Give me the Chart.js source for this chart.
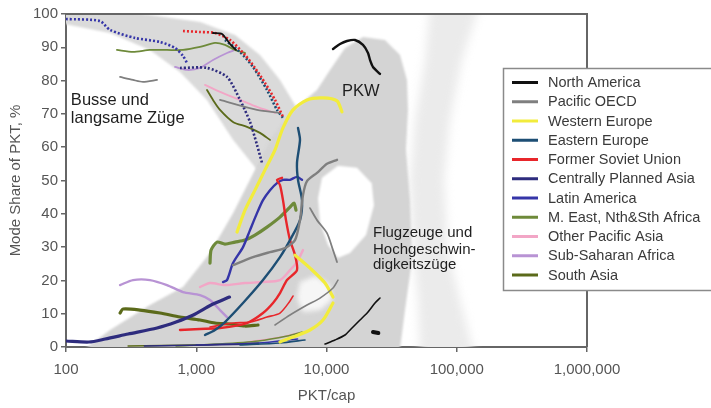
<!DOCTYPE html>
<html>
<head>
<meta charset="utf-8">
<script src="https://cdn.jsdelivr.net/npm/chart.js@4"></script>
<style>
  html, body { margin: 0; padding: 0; background: #fff; }
  canvas { display: block; }
</style>
</head>
<body>
<canvas id="c" width="711" height="408"></canvas>
<script>
// ---- Regions and their colours (legend order) ----
const regions = ['North America', 'Pacific OECD', 'Western Europe', 'Eastern Europe',
  'Former Soviet Union', 'Centrally Planned Asia', 'Latin America',
  'M. East, Nth&Sth Africa', 'Other Pacific Asia', 'Sub-Saharan Africa', 'South Asia'];
const regionColors = ['#111111', '#7f7f7f', '#f2ec3c', '#1d4e74', '#e8262b', '#2e2c7e',
  '#3535a8', '#6e8a3a', '#f2a6c6', '#b893d4', '#5b6a1a'];

// ---- Axis ticks ----
const xTickValues = [100, 1000, 10000, 100000, 1000000];
const xTickLabels = ['100', '1,000', '10,000', '100,000', '1,000,000'];

// ---- Trajectories: [PKT per capita, mode share %] ----
// North America
const naBus = [[1345,94.3],[1577,94.0],[1816,91.0],[2020,89.2]];
const naCar = [[11220,89.5],[12700,91.0],[14370,91.9],[16550,92.2],[19060,90.7],[20830,88.3],[21580,86.2],[22750,84.1],[25750,82.0]];
const naAir = [[9739,0.9],[11620,2.1],[13870,3.6],[15700,5.7],[18080,8.1],[20830,10.5],[23570,13.2],[25750,14.7]];
const naRail = [[22750,4.5],[25000,4.2]];
// Pacific OECD
const poBusEarly = [[260,81.1],[327,80.2],[390,79.6],[500,80.2]];
const poBusMid = [[1522,74.2],[2927,71.2],[4395,70.3]];
const poBusLate = [[7470,41.7],[8455,38.1],[10090,34.2],[11220,29.1],[12040,25.5]];
const poCar = [[1915,24.6],[2727,27.0],[3684,28.5],[4802,29.7],[5731,32.1],[6259,38.1],[6600,45.6],[7085,49.8],[8455,52.3],[10090,55.0],[12040,56.2]];
const poAir = [[4024,6.6],[5246,9.6],[7085,12.6],[8916,14.7],[11220,17.7],[12250,20.1]];
// Western Europe
const weCar = [[2056,34.5],[2367,41.1],[2825,47.1],[3372,53.2],[4024,59.2],[4634,65.8],[5532,71.2],[7085,74.2],[9400,74.8],[12040,73.9],[13150,70.6]];
const weBus = [[5731,27.6],[7470,23.7],[9739,19.2],[11220,15.0]];
const weAir = [[4395,1.5],[5532,3.0],[7470,5.1],[9400,8.1],[11220,13.2]];
// Eastern Europe
const eeBus = [[1662,92.2],[2168,88.6],[2727,84.1],[3493,77.2],[4169,71.2],[4634,68.8]];
const eeCar = [[1167,3.6],[1393,5.1],[1662,7.5],[2286,13.2],[3254,20.1],[4395,27.0],[5246,32.1],[6259,38.1],[6484,44.1],[6042,50.2],[5936,55.3],[6259,62.2],[6042,65.8]];
const eeAir = [[2168,0.6],[4395,1.2],[6839,2.1]];
// Former Soviet Union
const fsuBus = [[791,94.9],[1069,94.6],[1393,94.3],[1816,92.2],[2367,87.7],[2825,83.8],[3372,79.3],[4024,74.2],[4634,69.1]];
const fsuCar = [[750,5.1],[1069,5.4],[1522,5.7],[2452,7.2],[3254,10.2],[3885,13.2],[4395,16.2],[4974,20.1],[5936,23.1],[5731,27.6],[5246,32.1],[4887,38.1],[4634,44.1],[4395,48.6],[4169,50.2],[4553,50.8]];
const fsuAir = [[1275,6.0],[1915,7.2],[2586,7.5],[3493,9.0],[4395,10.2],[5246,13.8],[5532,15.3]];
// Centrally Planned Asia
const cpaBus = [[750,83.8],[1209,83.8],[1722,81.1],[2168,74.2],[2586,67.6],[2927,60.7],[3197,55.3]];
const cpaCar = [[100,1.8],[150,1.5],[200,2.4],[300,3.9],[500,5.7],[700,7.5],[950,9.6],[1300,12.6],[1800,15.0]];
const cpaAir = [[400,0.3],[1200,0.6],[3000,0.9]];
// Latin America
const laBus = [[100,98.5],[182,97.9],[218,95.2],[339,92.8],[527,91.6],[687,89.8],[791,87.4],[849,85.3]];
const laCar = [[1605,19.5],[1722,20.1],[1915,25.2],[2286,30.0],[2586,35.1],[2927,40.2],[3254,44.1],[3684,47.1],[4169,49.2],[4634,50.2],[5246,50.2],[5936,51.1],[6484,50.2]];
const laAir = [[1000,0.6],[3000,1.2],[6000,2.4]];
// Middle East, North & South Africa
const meBus = [[246,89.2],[327,88.6],[441,89.2],[596,89.2],[791,89.2],[1069,90.1],[1393,91.3],[1662,90.7],[1984,89.2],[2367,88.3]];
const meCar = [[1275,25.2],[1300,29.1],[1443,31.5],[1662,30.9],[1984,31.5],[2367,32.1],[2825,33.6],[3493,36.0],[4395,39.0],[5246,42.0],[5629,43.2],[5832,41.1]];
const meAir = [[700,0.3],[1500,0.9],[3000,1.8],[5000,3.3],[6500,4.5]];
// Other Pacific Asia
const opaBus = [[1167,78.7],[1522,76.6],[2168,74.2],[2927,72.1],[4024,70.3]];
const opaCar = [[1069,18.0],[1275,19.2],[1662,18.6],[2367,19.2],[3197,19.5],[4395,20.1],[5246,23.1],[5936,25.5],[6600,29.1]];
const opaAir = [[2500,1.5],[4500,3.0],[6000,4.2]];
// Sub-Saharan Africa
const ssaBus = [[687,84.1],[849,83.2],[1069,83.8],[1345,86.2],[1722,88.3],[1984,89.2]];
const ssaCar = [[260,18.6],[327,20.1],[441,20.1],[596,18.6],[791,16.5],[1069,15.6],[1275,14.1],[1522,11.1],[1722,9.0]];
// South Asia
const saBus = [[1209,77.2],[1345,74.2],[1522,71.2],[1915,67.6],[2452,66.1],[3086,64.3],[3684,62.2]];
const saCar = [[260,10.2],[274,11.4],[370,11.1],[527,10.2],[750,9.0],[1069,8.1],[1393,7.2],[1816,6.9],[2367,6.3],[2979,6.6]];
const saAir = [[300,0.3],[1000,0.6],[3000,1.2]];

// ---- Shaded mode regions (outlines in PKT/cap, %) ----
const busBand = [[90,103],[441,99.7],[1069,97.6],[1984,93.7],[3086,87.7],[4395,80.2],[5731,72.7],[6839,65.2],
  [2927,53.2],[1915,62.2],[1209,74.2],[750,82.6],[441,89.2],[218,94.3],[90,97.3]];
const carBand = [[115,-3],[218,5.1],[441,12.6],[791,18.0],[1275,28.2],[1915,40.2],[2586,50.2],[3684,62.2],[5246,70.3],
  [8455,77.2],[10640,83.2],[13870,89.8],[19060,93.1],[28120,92.2],[36680,87.7],[41500,80.2],[42230,71.2],
  [40770,59.2],[43750,44.1],[45340,26.1],[40060,11.1],[36000,-3]];
const airBand = [[62340,103],[57050,86.2],[47810,68.2],[43750,50.2],[46150,29.1],[50410,14.1],[52230,-3],
  [138100,-3],[105900,14.1],[85660,29.1],[79830,50.2],[88790,68.2],[109700,86.2],[150000,103]];
const gapUpper = [[9237,50.8],[12250,54.4],[17150,53.8],[22230,49.2],[23150,42.6],[20110,33.6],[15150,28.2],[12250,26.7],[10270,30.6],[8916,37.5],[8605,44.7]];
const gapLower = [[6259,19.5],[8160,21.3],[10640,18.6],[11020,14.1],[8916,11.1],[6600,10.5],[5936,14.7]];

// ---- In-plot captions: [text, PKT/cap, % baseline, font size] ----
const captions = [
  ['Busse und', 109, 72.8, 16.5], ['langsame Züge', 109, 67.2, 16.5],
  ['PKW', 13150, 75.4, 16.5],
  ['Flugzeuge und', 22750, 33.0, 15], ['Hochgeschwin-', 22750, 27.9, 15], ['digkeitszüge', 22750, 23.3, 15]
];

// series: [points, region index, mode]; earlier entries are painted on top
const series = [
  [naBus,0,'bus'],[naCar,0,'car'],[naAir,0,'air'],[naRail,0,'blob'],
  [fsuBus,4,'dot'],
  [poBusEarly,1,'bus'],[poBusMid,1,'bus'],[poBusLate,1,'bus'],[poCar,1,'car'],[poAir,1,'air'],
  [weBus,2,'busThick'],[weAir,2,'busThick'],[weCar,2,'carThick'],
  [eeBus,3,'dot'],[eeCar,3,'car'],[eeAir,3,'air'],
  [fsuAir,4,'air'],[fsuCar,4,'car'],
  [cpaBus,5,'dot'],[cpaCar,5,'carThick'],[cpaAir,5,'air'],
  [laBus,6,'dot'],[laCar,6,'car'],[laAir,6,'air'],
  [meBus,7,'bus'],[meCar,7,'carThick'],[meAir,7,'air'],
  [opaBus,8,'bus'],[opaCar,8,'car'],[opaAir,8,'air'],
  [ssaBus,9,'bus'],[ssaCar,9,'car'],
  [saBus,10,'bus'],[saCar,10,'carThick'],[saAir,10,'air']
];

const modeStyle = {
  bus:      { borderWidth: 1.8, borderDash: [], cap: 'round' },
  busThick: { borderWidth: 3.2, borderDash: [], cap: 'round' },
  dot:      { borderWidth: 2.6, borderDash: [2, 2], cap: 'butt' },
  car:      { borderWidth: 2.4, borderDash: [], cap: 'round' },
  carThick: { borderWidth: 3.2, borderDash: [], cap: 'round' },
  air:      { borderWidth: 1.6, borderDash: [], cap: 'round' },
  blob:     { borderWidth: 4, borderDash: [], cap: 'round' }
};

const datasets = series.map(([pts, r, mode]) => ({
  label: regions[r],
  data: pts,
  showLine: true,
  pointRadius: 0,
  borderColor: regionColors[r],
  borderWidth: modeStyle[mode].borderWidth,
  borderDash: modeStyle[mode].borderDash,
  borderCapStyle: modeStyle[mode].cap,
  borderJoinStyle: 'round',
  tension: 0.25,
  fill: false
}));

function tracePoly(ctx, xs, ys, pts) {
  ctx.beginPath();
  pts.forEach(([vx, vy], i) => {
    const px = xs.getPixelForValue(vx), py = ys.getPixelForValue(vy);
    if (i) ctx.lineTo(px, py); else ctx.moveTo(px, py);
  });
  ctx.closePath();
}

const bandsPlugin = {
  id: 'bands',
  beforeDatasetsDraw(chart) {
    const { ctx, chartArea: a, scales: { x, y } } = chart;
    ctx.save();
    ctx.beginPath();
    ctx.rect(a.left, a.top, a.right - a.left, a.bottom - a.top);
    ctx.clip();
    ctx.filter = 'blur(5px)';
    ctx.fillStyle = '#ebebeb';
    tracePoly(ctx, x, y, airBand); ctx.fill();
    ctx.filter = 'blur(1.2px)';
    ctx.fillStyle = '#dadada';
    tracePoly(ctx, x, y, busBand); ctx.fill();
    ctx.fillStyle = '#d4d4d4';
    tracePoly(ctx, x, y, carBand); ctx.fill();
    ctx.fillStyle = '#ffffff';
    tracePoly(ctx, x, y, gapUpper); ctx.fill();
    ctx.filter = 'blur(2.5px)';
    ctx.fillStyle = '#f6f6f6';
    tracePoly(ctx, x, y, gapLower); ctx.fill();
    ctx.restore();
  },
  afterDatasetsDraw(chart) {
    const { ctx, chartArea: a, scales: { x, y } } = chart;
    ctx.save();
    // top and right frame
    ctx.strokeStyle = '#666';
    ctx.lineWidth = 2;
    ctx.beginPath();
    ctx.moveTo(a.left, a.top);
    ctx.lineTo(a.right, a.top);
    ctx.lineTo(a.right, a.bottom);
    ctx.stroke();
    // captions
    ctx.fillStyle = '#1e1e1e';
    ctx.textBaseline = 'alphabetic';
    ctx.textAlign = 'left';
    captions.forEach(([t, vx, vy, size]) => {
      ctx.font = size + 'px "Liberation Sans", Arial, sans-serif';
      ctx.fillText(t, x.getPixelForValue(vx), y.getPixelForValue(vy));
    });
    ctx.restore();
  },
  afterDraw(chart) {
    const { ctx } = chart;
    ctx.save();
    // legend box
    const left = 503, top = 68, bottom = 290;
    ctx.fillStyle = '#fff';
    ctx.fillRect(left, top, 260, bottom - top);
    ctx.strokeStyle = '#8a8a8a';
    ctx.lineWidth = 1.5;
    ctx.strokeRect(left + 0.5, top + 0.5, 260, bottom - top);
    ctx.font = '14.5px "Liberation Sans", Arial, sans-serif';
    ctx.textBaseline = 'middle';
    ctx.textAlign = 'left';
    regions.forEach((name, i) => {
      const cy = 82.5 + i * 19.25;
      ctx.strokeStyle = regionColors[i];
      ctx.lineWidth = 3;
      ctx.beginPath();
      ctx.moveTo(512, cy);
      ctx.lineTo(538, cy);
      ctx.stroke();
      ctx.fillStyle = '#3a3a3a';
      ctx.fillText(name, 548, cy + 0.5);
    });
    ctx.restore();
  }
};

const font = { family: '"Liberation Sans", Arial, sans-serif', size: 15 };

new Chart(document.getElementById('c'), {
  type: 'scatter',
  data: { datasets },
  options: {
    responsive: false,
    animation: false,
    devicePixelRatio: 1,
    layout: { padding: { left: 0, right: 124, top: 14, bottom: 0 } },
    plugins: { legend: { display: false }, tooltip: { enabled: false } },
    scales: {
      x: {
        type: 'logarithmic',
        min: 100, max: 1000000,
        afterBuildTicks: s => { s.ticks = xTickValues.map(v => ({ value: v })); },
        afterFit: s => { s.height = 61; },
        ticks: {
          autoSkip: false, maxRotation: 0, padding: 9,
          color: '#555', font,
          callback: v => xTickLabels[xTickValues.indexOf(v)]
        },
        grid: { drawOnChartArea: false, drawTicks: true, tickLength: 5, color: '#666', lineWidth: 1.5 },
        border: { display: true, color: '#666', width: 2 },
        title: { display: true, text: 'PKT/cap', color: '#555', font, padding: { top: 0, bottom: 3 } }
      },
      y: {
        min: 0, max: 100,
        afterFit: s => { s.width = 66; },
        ticks: { stepSize: 10, padding: 3, color: '#555', font },
        grid: { drawOnChartArea: false, drawTicks: true, tickLength: 5, color: '#666', lineWidth: 1.5 },
        border: { display: true, color: '#666', width: 2 },
        title: { display: true, text: 'Mode Share of PKT, %', color: '#555', font, padding: { top: 7, bottom: 0 } }
      }
    }
  },
  plugins: [bandsPlugin]
});
</script>
</body>
</html>
